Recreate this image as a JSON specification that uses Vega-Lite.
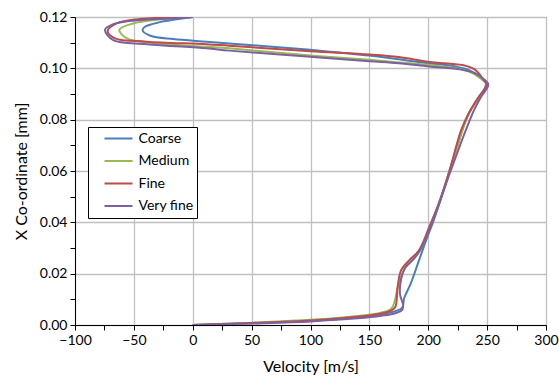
{
  "$schema": "https://vega.github.io/schema/vega-lite/v6.json",
  "width": 471,
  "height": 308,
  "autosize": {"type": "none"},
  "padding": {"left": 75, "top": 17, "right": 13, "bottom": 60},
  "background": "white",
  "config": {
    "view": {"stroke": "black", "strokeWidth": 1},
    "font": "Lato"
  },
  "data": {
    "values": [
      {"s": "Coarse", "v": 0, "y": 0},
      {"s": "Coarse", "v": 50, "y": 0.0007},
      {"s": "Coarse", "v": 100, "y": 0.0016},
      {"s": "Coarse", "v": 140, "y": 0.003},
      {"s": "Coarse", "v": 160, "y": 0.0042},
      {"s": "Coarse", "v": 172, "y": 0.0054},
      {"s": "Coarse", "v": 178, "y": 0.0068},
      {"s": "Coarse", "v": 179.5, "y": 0.0104},
      {"s": "Coarse", "v": 185, "y": 0.016},
      {"s": "Coarse", "v": 192, "y": 0.025},
      {"s": "Coarse", "v": 199, "y": 0.034},
      {"s": "Coarse", "v": 204, "y": 0.04},
      {"s": "Coarse", "v": 210, "y": 0.048},
      {"s": "Coarse", "v": 218, "y": 0.06},
      {"s": "Coarse", "v": 225, "y": 0.07},
      {"s": "Coarse", "v": 229, "y": 0.076},
      {"s": "Coarse", "v": 234, "y": 0.082},
      {"s": "Coarse", "v": 242, "y": 0.088},
      {"s": "Coarse", "v": 249, "y": 0.094},
      {"s": "Coarse", "v": 244, "y": 0.0965},
      {"s": "Coarse", "v": 236, "y": 0.099},
      {"s": "Coarse", "v": 222, "y": 0.1008},
      {"s": "Coarse", "v": 200, "y": 0.102},
      {"s": "Coarse", "v": 175, "y": 0.1035},
      {"s": "Coarse", "v": 150, "y": 0.105},
      {"s": "Coarse", "v": 110, "y": 0.1068},
      {"s": "Coarse", "v": 70, "y": 0.1083},
      {"s": "Coarse", "v": 31, "y": 0.1097},
      {"s": "Coarse", "v": 11.7, "y": 0.1104},
      {"s": "Coarse", "v": -16.5, "y": 0.1114},
      {"s": "Coarse", "v": -36, "y": 0.1127},
      {"s": "Coarse", "v": -42.6, "y": 0.1148},
      {"s": "Coarse", "v": -40.6, "y": 0.1162},
      {"s": "Coarse", "v": -28, "y": 0.118},
      {"s": "Coarse", "v": -12, "y": 0.1192},
      {"s": "Coarse", "v": 0, "y": 0.12},

      {"s": "Medium", "v": 0, "y": 0},
      {"s": "Medium", "v": 50, "y": 0.0009},
      {"s": "Medium", "v": 100, "y": 0.002},
      {"s": "Medium", "v": 140, "y": 0.0035},
      {"s": "Medium", "v": 160, "y": 0.0048},
      {"s": "Medium", "v": 169, "y": 0.0066},
      {"s": "Medium", "v": 175, "y": 0.0162},
      {"s": "Medium", "v": 181, "y": 0.0227},
      {"s": "Medium", "v": 189.5, "y": 0.0266},
      {"s": "Medium", "v": 196, "y": 0.032},
      {"s": "Medium", "v": 201, "y": 0.038},
      {"s": "Medium", "v": 209, "y": 0.0474},
      {"s": "Medium", "v": 218, "y": 0.06},
      {"s": "Medium", "v": 225, "y": 0.07},
      {"s": "Medium", "v": 229, "y": 0.076},
      {"s": "Medium", "v": 235, "y": 0.083},
      {"s": "Medium", "v": 244, "y": 0.089},
      {"s": "Medium", "v": 250, "y": 0.094},
      {"s": "Medium", "v": 246, "y": 0.0955},
      {"s": "Medium", "v": 238, "y": 0.098},
      {"s": "Medium", "v": 228, "y": 0.0997},
      {"s": "Medium", "v": 200.8, "y": 0.1013},
      {"s": "Medium", "v": 175, "y": 0.1023},
      {"s": "Medium", "v": 150, "y": 0.1033},
      {"s": "Medium", "v": 100, "y": 0.105},
      {"s": "Medium", "v": 31, "y": 0.1078},
      {"s": "Medium", "v": 11.7, "y": 0.1084},
      {"s": "Medium", "v": -30.8, "y": 0.1097},
      {"s": "Medium", "v": -56, "y": 0.1117},
      {"s": "Medium", "v": -62.4, "y": 0.115},
      {"s": "Medium", "v": -50.5, "y": 0.1175},
      {"s": "Medium", "v": -25, "y": 0.1192},
      {"s": "Medium", "v": 0, "y": 0.12},

      {"s": "Fine", "v": 0, "y": 0},
      {"s": "Fine", "v": 50, "y": 0.0008},
      {"s": "Fine", "v": 100, "y": 0.0018},
      {"s": "Fine", "v": 140, "y": 0.0032},
      {"s": "Fine", "v": 160, "y": 0.0045},
      {"s": "Fine", "v": 168, "y": 0.0055},
      {"s": "Fine", "v": 172, "y": 0.007},
      {"s": "Fine", "v": 174, "y": 0.0149},
      {"s": "Fine", "v": 177, "y": 0.0214},
      {"s": "Fine", "v": 184, "y": 0.0253},
      {"s": "Fine", "v": 192, "y": 0.029},
      {"s": "Fine", "v": 201, "y": 0.0383},
      {"s": "Fine", "v": 209, "y": 0.0474},
      {"s": "Fine", "v": 218, "y": 0.06},
      {"s": "Fine", "v": 224, "y": 0.07},
      {"s": "Fine", "v": 228, "y": 0.076},
      {"s": "Fine", "v": 235, "y": 0.083},
      {"s": "Fine", "v": 243, "y": 0.089},
      {"s": "Fine", "v": 250, "y": 0.0935},
      {"s": "Fine", "v": 247, "y": 0.0955},
      {"s": "Fine", "v": 243, "y": 0.098},
      {"s": "Fine", "v": 239, "y": 0.0997},
      {"s": "Fine", "v": 229, "y": 0.1013},
      {"s": "Fine", "v": 200.8, "y": 0.1025},
      {"s": "Fine", "v": 175, "y": 0.1044},
      {"s": "Fine", "v": 150, "y": 0.1054},
      {"s": "Fine", "v": 100, "y": 0.1067},
      {"s": "Fine", "v": 31, "y": 0.1088},
      {"s": "Fine", "v": 11.7, "y": 0.1094},
      {"s": "Fine", "v": -39, "y": 0.1104},
      {"s": "Fine", "v": -66, "y": 0.1117},
      {"s": "Fine", "v": -72.3, "y": 0.1145},
      {"s": "Fine", "v": -64.7, "y": 0.1175},
      {"s": "Fine", "v": -44.8, "y": 0.1192},
      {"s": "Fine", "v": -20, "y": 0.1198},
      {"s": "Fine", "v": 0, "y": 0.12},

      {"s": "Very fine", "v": 0, "y": 0},
      {"s": "Very fine", "v": 50, "y": 0.0006},
      {"s": "Very fine", "v": 100, "y": 0.0014},
      {"s": "Very fine", "v": 140, "y": 0.0026},
      {"s": "Very fine", "v": 160, "y": 0.0036},
      {"s": "Very fine", "v": 172, "y": 0.0046},
      {"s": "Very fine", "v": 178, "y": 0.006},
      {"s": "Very fine", "v": 178.5, "y": 0.008},
      {"s": "Very fine", "v": 176, "y": 0.012},
      {"s": "Very fine", "v": 177, "y": 0.018},
      {"s": "Very fine", "v": 180, "y": 0.022},
      {"s": "Very fine", "v": 186, "y": 0.025},
      {"s": "Very fine", "v": 193, "y": 0.029},
      {"s": "Very fine", "v": 200, "y": 0.036},
      {"s": "Very fine", "v": 209, "y": 0.047},
      {"s": "Very fine", "v": 219, "y": 0.06},
      {"s": "Very fine", "v": 227, "y": 0.07},
      {"s": "Very fine", "v": 232, "y": 0.076},
      {"s": "Very fine", "v": 239, "y": 0.0838},
      {"s": "Very fine", "v": 245, "y": 0.089},
      {"s": "Very fine", "v": 251, "y": 0.0935},
      {"s": "Very fine", "v": 248, "y": 0.0955},
      {"s": "Very fine", "v": 240, "y": 0.098},
      {"s": "Very fine", "v": 228, "y": 0.0995},
      {"s": "Very fine", "v": 200.8, "y": 0.1007},
      {"s": "Very fine", "v": 175, "y": 0.102},
      {"s": "Very fine", "v": 150, "y": 0.1028},
      {"s": "Very fine", "v": 100, "y": 0.1045},
      {"s": "Very fine", "v": 31, "y": 0.1069},
      {"s": "Very fine", "v": 11.7, "y": 0.1078},
      {"s": "Very fine", "v": -39, "y": 0.1094},
      {"s": "Very fine", "v": -67.5, "y": 0.111},
      {"s": "Very fine", "v": -74.5, "y": 0.115},
      {"s": "Very fine", "v": -67.5, "y": 0.1172},
      {"s": "Very fine", "v": -44.8, "y": 0.1188},
      {"s": "Very fine", "v": -8, "y": 0.1197},
      {"s": "Very fine", "v": 0, "y": 0.12}
    ]
  },
  "mark": {"type": "line", "strokeWidth": 2, "interpolate": "catmull-rom", "clip": true},
  "encoding": {
    "x": {
      "field": "v", "type": "quantitative",
      "scale": {"domain": [-100, 300], "nice": false, "zero": false},
      "axis": {
        "title": "Velocity [m/s]",
        "values": [-100, -75, -50, -25, 0, 25, 50, 75, 100, 125, 150, 175, 200, 225, 250, 275, 300],
        "labelExpr": "datum.value % 50 === 0 ? datum.label : ''",
        "gridColor": {"condition": {"test": "datum.value % 50 === 0", "value": "#c0c0c0"}, "value": "transparent"},
        "gridWidth": 1.3,
        "domainColor": "black",
        "tickColor": "black",
        "tickSize": 5,
        "labelFontSize": 14,
        "labelColor": "black",
        "labelPadding": 3,
        "titleFontSize": 16,
        "titleFontWeight": "normal",
        "titleColor": "black",
        "titlePadding": 11,
        "labelFlush": false
      }
    },
    "y": {
      "field": "y", "type": "quantitative",
      "scale": {"domain": [0, 0.12], "nice": false, "zero": false},
      "axis": {
        "title": "X Co-ordinate [mm]",
        "values": [0, 0.01, 0.02, 0.03, 0.04, 0.05, 0.06, 0.07, 0.08, 0.09, 0.1, 0.11, 0.12],
        "labelExpr": "round(datum.value * 100) % 2 === 0 ? format(datum.value, '.2f') : ''",
        "gridColor": {"condition": {"test": "round(datum.value * 100) % 2 === 0", "value": "#c0c0c0"}, "value": "transparent"},
        "gridWidth": 1.3,
        "domainColor": "black",
        "tickColor": "black",
        "tickSize": 5,
        "labelFontSize": 14,
        "labelColor": "black",
        "labelPadding": 3,
        "titleFontSize": 16,
        "titleFontWeight": "normal",
        "titleColor": "black",
        "titlePadding": 10,
        "labelFlush": false
      }
    },
    "color": {
      "field": "s", "type": "nominal",
      "scale": {
        "domain": ["Coarse", "Medium", "Fine", "Very fine"],
        "range": ["#4a7ebb", "#98b954", "#be4b48", "#7d60a0"]
      },
      "legend": {
        "title": null,
        "orient": "none",
        "legendX": 13,
        "legendY": 110,
        "fillColor": "white",
        "strokeColor": "black",
        "padding": 3.5,
        "symbolOffset": 12,
        "symbolType": "stroke",
        "symbolSize": 784,
        "symbolStrokeWidth": 2,
        "clipHeight": 16,
        "labelFontSize": 14,
        "labelColor": "black",
        "rowPadding": 6.5,
        "labelOffset": 5
      }
    },
    "order": {"field": "y", "type": "quantitative"}
  }
}
